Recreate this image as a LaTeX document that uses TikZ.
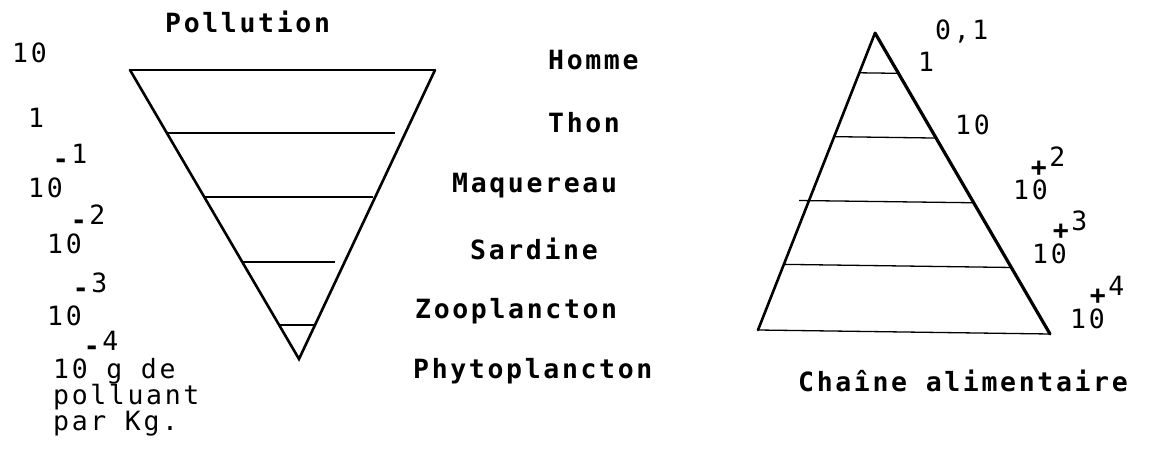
\documentclass[tikz,border=0pt]{standalone}
\usepackage{fontspec}
\newfontfamily\dmono[LetterSpace=10]{DejaVu Sans Mono}
\usetikzlibrary{calc}
\begin{document}
\begin{tikzpicture}[x=1pt,y=-1pt,
  word/.style={font=\fontsize{26.5}{26.5}\selectfont\dmono\bfseries, inner sep=0pt, anchor=base west},
  num/.style={font=\fontsize{26.5}{26.5}\selectfont\dmono, inner sep=0pt, anchor=base west},
  side/.style={line width=2.6pt, line cap=round, line join=miter},
  rung/.style={line width=1.3pt}]
\useasboundingbox (0,0) rectangle (1158,457);
% left inverted triangle
\coordinate (L1) at (130,70);
\coordinate (L2) at (435,70);
\coordinate (L3) at (299,359);
\draw[side] (L1) -- (L3) -- (L2);
\draw[rung] (L1) -- (L2);
\draw[rung] ($(L1)!0.218!(L3)$) -- ++(228,0);
\draw[rung] ($(L1)!0.439!(L3)$) -- ++(169,0);
\draw[rung] ($(L1)!0.664!(L3)$) -- ++(93,0);
\draw[rung] ($(L1)!0.882!(L3)$) -- ++(36,0);
% right triangle
\coordinate (R1) at (875,33);
\coordinate (R2) at (758,330);
\coordinate (R3) at (1050,334);
\draw[side] (R2) -- (R1);
\draw[side, line width=3.2pt] (R1) -- (R3);
\draw[rung] (R2) -- (R3);
\draw[rung] ($(R1)!0.134!(R2)$) -- ($(R1)!0.134!(R3)$);
\draw[rung] ($(R1)!0.349!(R2)$) -- ($(R1)!0.349!(R3)$);
\draw[rung] ($(R1)!0.564!(R2)+(-10,0)$) -- ($(R1)!0.564!(R3)$);
\draw[rung] ($(R1)!0.779!(R2)$) -- ($(R1)!0.779!(R3)$);
% titles and middle labels
\node[word] (pol) at (165,33) {Pollution};
\node[word] (hom) at (548,70) {Homme};
\node[word] (tho) at (548,133) {Thon};
\node[word] (maq) at (452,193) {Maquereau};
\node[word] (sar) at (470,259) {Sardine};
\node[word] (zoo) at (415,318) {Zooplancton};
\node[word] (phy) at (413,378) {Phytoplancton};
\node[word] (cha) at (798,391) {Chaîne alimentaire};
% left scale
\node[num] (a1) at (12,63) {10};
\node[num] (a2) at (28,128) {1};
\node[num] (a4) at (28,197) {10\rlap{\kern-10pt\raisebox{29pt}{\textbf{-}}\raisebox{34pt}{1}}};
\node[num] (a6) at (47,253) {10\rlap{\kern-11pt\raisebox{24pt}{\textbf{-}}\raisebox{29pt}{2}}};
\node[num] (a8) at (47,325) {10\rlap{\kern-9pt\raisebox{28pt}{\textbf{-}}\raisebox{33pt}{3}}};
\node[num] (u1) at (53,378) {10\rlap{\kern-4pt\raisebox{23pt}{\textbf{-}}\raisebox{28pt}{4}} g de};
\node[num] (u2) at (53,404) {polluant};
\node[num] (u3) at (53,430) {par Kg.};
% right scale
\node[num] (b1) at (935,40) {0,1};
\node[num] (b2) at (918,72) {1};
\node[num] (b3) at (955,135) {10};
\node[num] (b5) at (1013,200) {10\rlap{\kern-17pt\raisebox{24pt}{\textbf{+}}\raisebox{33pt}{2}}};
\node[num] (b7) at (1032,263) {10\rlap{\kern-14pt\raisebox{24pt}{\textbf{+}}\raisebox{33pt}{3}}};
\node[num] (b9) at (1070,328) {10\rlap{\kern-15pt\raisebox{24pt}{\textbf{+}}\raisebox{33pt}{4}}};
\end{tikzpicture}
\end{document}
